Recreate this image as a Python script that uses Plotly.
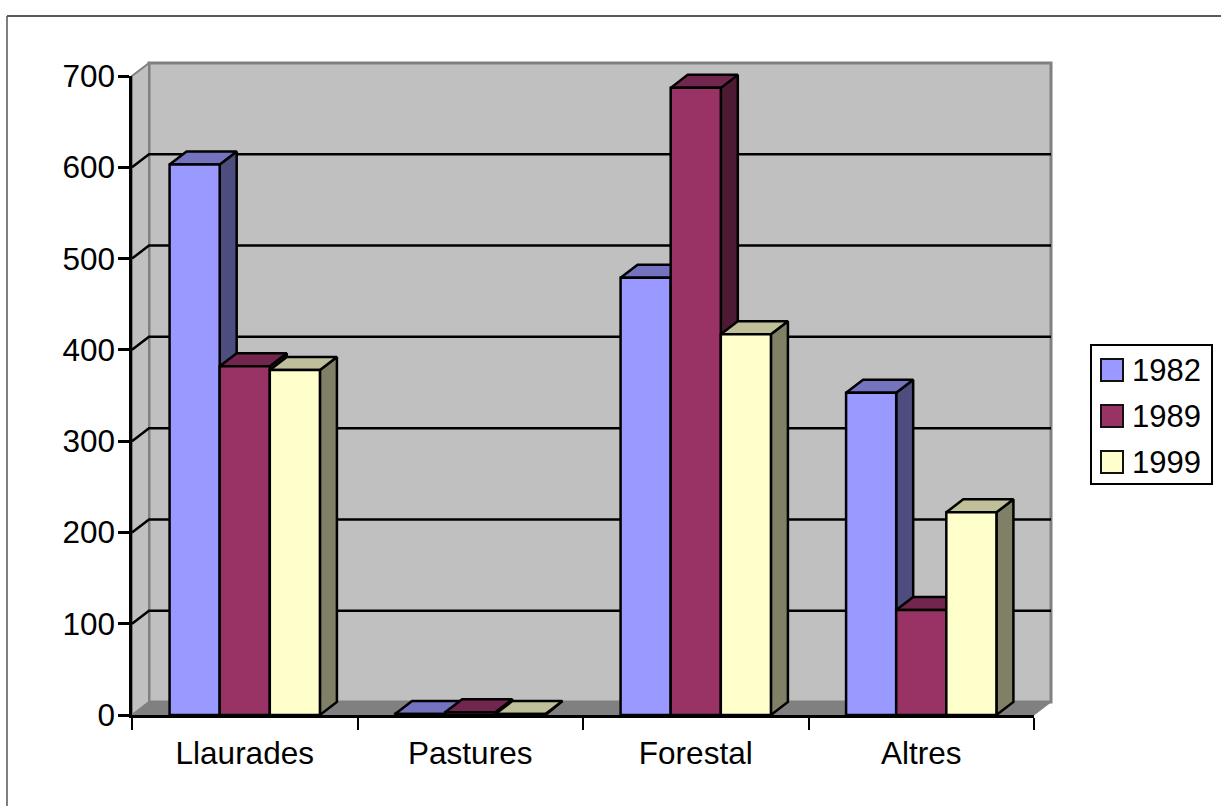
import plotly.graph_objects as go

categories = ["Llaurades", "Pastures", "Forestal", "Altres"]
series_names = ["1982", "1989", "1999"]
values_1982 = [603, 1, 479, 353]
values_1989 = [382, 3, 687, 115]
values_1999 = [378, 1, 417, 222]
y_ticks = [0, 100, 200, 300, 400, 500, 600, 700]

front_colors = ["#9999FF", "#993366", "#FFFFCC"]
top_colors = ["#7373BF", "#73264D", "#BFBF99"]
side_colors = ["#4D4D80", "#4D1A33", "#808066"]

W, H = 1221, 806
# the frame drawn by the value axes, in pixels
L, R, T, B = 132, 1034, 76, 715
# the larger drawing area that also holds the 3-D depth
AL, AR, AT, AB = 120, 1070, 50, 730
XMAX, YMAX = 4, 700
SX = (R - L) / XMAX
SY = (B - T) / YMAX
DX = 17 / SX          # depth of the 3-D box, in axis units
DY = 13 / SY
BAR = 2 / 9
GAP = 1 / 6
LW = 2.5

fig = go.Figure()


def poly(xs, ys, fill, line="black", width=LW):
    fig.add_trace(go.Scatter(
        x=xs + xs[:1], y=ys + ys[:1], mode="lines", fill="toself",
        fillcolor=fill, line=dict(color=line, width=width),
        showlegend=False, hoverinfo="skip"))


def seg(xs, ys, color="black", width=LW):
    fig.add_trace(go.Scatter(
        x=xs, y=ys, mode="lines", line=dict(color=color, width=width),
        showlegend=False, hoverinfo="skip"))


# walls and floor
poly([DX, XMAX + DX, XMAX + DX, DX], [DY, DY, YMAX + DY, YMAX + DY], "#C0C0C0", "#808080", 3)
poly([0, DX, DX, 0], [0, DY, YMAX + DY, YMAX], "#C0C0C0", "#808080", 2)
poly([0, XMAX, XMAX + DX, DX], [0, 0, DY, DY], "#808080", "#808080", 1)

# gridlines on the walls
for v in y_ticks[1:-1]:
    seg([0, DX, XMAX + DX], [v, v + DY, v + DY])

# bars
all_values = [values_1982, values_1989, values_1999]
for c in range(len(categories)):
    for s, vals in enumerate(all_values):
        x0 = c + GAP + s * BAR
        x1 = x0 + BAR
        v = vals[c]
        poly([x1, x1 + DX, x1 + DX, x1], [0, DY, v + DY, v], side_colors[s])
        poly([x0, x1, x1 + DX, x0 + DX], [v, v, v + DY, v + DY], top_colors[s])
        poly([x0, x1, x1, x0], [0, 0, v, v], front_colors[s])

# empty trace that carries the visible axes
fig.add_trace(go.Scatter(x=[None], y=[None], xaxis="x2", yaxis="y2", mode="markers",
                         showlegend=False, hoverinfo="skip"))


def px_x(p):
    return (p - AL) / (AR - AL)


def px_y(p):
    return (AB - p) / (AB - AT)


# legend, frame and swatches
shapes = [
    dict(type="line", xref="paper", yref="paper", x0=px_x(7), x1=px_x(W), y0=px_y(16), y1=px_y(16),
         line=dict(color="#222222", width=1.5)),
    dict(type="line", xref="paper", yref="paper", x0=px_x(7), x1=px_x(7), y0=px_y(16), y1=px_y(H),
         line=dict(color="#555555", width=1.5)),
    dict(type="rect", xref="paper", yref="paper", x0=px_x(1091), x1=px_x(1212), y0=px_y(484), y1=px_y(345),
         fillcolor="white", line=dict(color="black", width=2)),
]
annotations = []
for s, name in enumerate(series_names):
    cy = 370 + s * 46
    shapes.append(dict(type="rect", xref="paper", yref="paper",
                       x0=px_x(1101), x1=px_x(1123), y0=px_y(cy + 11), y1=px_y(cy - 11),
                       fillcolor=front_colors[s], line=dict(color="#111111", width=2)))
    annotations.append(dict(xref="paper", yref="paper", x=px_x(1131), y=px_y(cy),
                            xanchor="left", yanchor="middle", text=name, showarrow=False,
                            font=dict(size=31), xshift=-1))

fig.update_layout(
    width=W, height=H,
    margin=dict(l=AL, r=W - AR, t=AT, b=H - AB, pad=0),
    paper_bgcolor="white", plot_bgcolor="rgba(0,0,0,0)",
    font=dict(family="Liberation Sans, Arial, sans-serif", size=31.5, color="black"),
    showlegend=False,
    shapes=shapes, annotations=annotations,
    xaxis=dict(domain=[0, 1], range=[(AL - L) / SX, (AR - L) / SX], visible=False),
    yaxis=dict(domain=[0, 1], range=[(B - AB) / SY, (B - AT) / SY], visible=False),
    xaxis2=dict(
        domain=[px_x(L), px_x(R)], anchor="y2", range=[0, XMAX],
        showgrid=False, zeroline=False,
        showline=True, linecolor="black", linewidth=3,
        tickmode="array", tickvals=[i + 0.5 for i in range(len(categories))],
        ticktext=categories, ticks="outside", ticklen=8, tickcolor="rgba(0,0,0,0)",
        minor=dict(tickmode="array", tickvals=list(range(len(categories) + 1)),
                   ticks="outside", ticklen=12, tickwidth=2, tickcolor="black", showgrid=False),
    ),
    yaxis2=dict(
        domain=[px_y(B), px_y(T)], anchor="x2", range=[0, YMAX],
        showgrid=False, zeroline=False,
        showline=True, linecolor="black", linewidth=LW,
        tickmode="array", tickvals=y_ticks,
        ticks="outside", ticklen=11, tickwidth=LW, tickcolor="black",
        ticklabelstandoff=-3,
    ),
)

fig.write_html("out.html", config={"displayModeBar": False},
               post_script="document.body.style.margin='0';document.body.style.overflow='hidden';")
